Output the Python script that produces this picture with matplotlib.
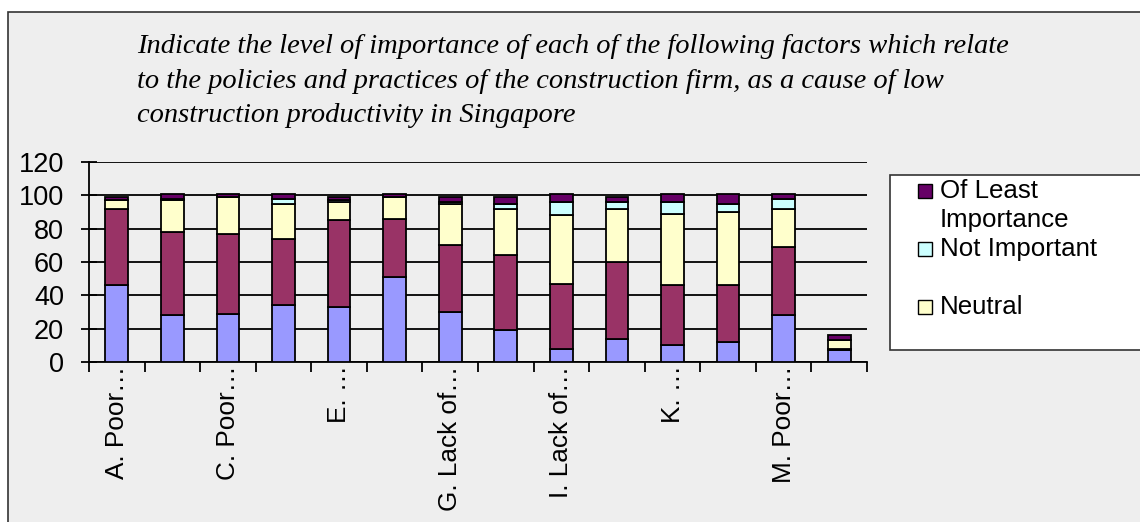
import numpy as np
import matplotlib.pyplot as plt
from matplotlib.patches import Rectangle

# Survey responses per factor (percent of respondents), stacked bottom to top
factor_labels = ["A. Poor…", "", "C. Poor…", "", "E. …", "", "G. Lack of…", "",
                 "I. Lack of…", "", "K. …", "", "M. Poor…", ""]
very_important = [46, 28, 29, 34, 33, 51, 30, 19, 8, 14, 10, 12, 28, 7]
important = [46, 50, 48, 40, 52, 35, 40, 45, 39, 46, 36, 34, 41, 1]
neutral = [5, 19, 22, 21, 11, 13, 25, 28, 41, 32, 43, 44, 23, 5]
not_important = [0, 1, 0, 3, 1, 0, 1, 3, 8, 4, 7, 5, 6, 0]
least_importance = [2, 3, 2, 3, 2, 2, 3, 4, 5, 3, 5, 6, 3, 3]

series = [very_important, important, neutral, not_important, least_importance]
colors = ["#9999FF", "#993366", "#FFFFCC", "#CCFFFF", "#660066"]
legend_names = ["Of Least\nImportance", "Not Important", "Neutral"]
y_ticks = [0, 20, 40, 60, 80, 100, 120]

title = ("Indicate the level of importance of each of the following factors which relate\n"
         "to the policies and practices of the construction firm, as a cause of low\n"
         "construction productivity in Singapore")

W, H = 1140, 522
bg = "#EEEEEE"


def fx(px):
    return px / W


def fy(py):
    return 1 - py / H


fig = plt.figure(figsize=(W / 100, H / 100), dpi=100, facecolor="white")

# chart area panel
fig.add_artist(Rectangle((fx(8), fy(530)), fx(1150), fy(12) - fy(530),
                         transform=fig.transFigure, facecolor=bg,
                         edgecolor="#333333", linewidth=1.2, zorder=0))

# multi-line text: baseline alignment refers to the last line
fig.text(fx(137), fy(122), title, fontsize=20.5, family="Liberation Serif",
         style="italic", va="baseline", ha="left", linespacing=1.5)

ax = fig.add_axes([fx(89), fy(362), fx(867 - 89), fy(162) - fy(362)])
ax.set_facecolor(bg)
ax.patch.set_alpha(0)

x = np.arange(len(factor_labels))
bottom = np.zeros(len(x))
for vals, c in zip(series, colors):
    ax.bar(x, vals, width=0.41, bottom=bottom, color=c, edgecolor="black",
           linewidth=1.3, zorder=3)
    bottom += np.array(vals)

ax.set_xlim(-0.5, len(x) - 0.5)
ax.set_ylim(0, 120)
ax.set_yticks(y_ticks)
ax.yaxis.grid(True, color="black", linewidth=1.3)
ax.set_axisbelow(True)

for s in ["top", "right"]:
    ax.spines[s].set_visible(False)
for s in ["left", "bottom"]:
    ax.spines[s].set_linewidth(1.3)

ax.set_xticks(x)
ax.set_xticklabels(factor_labels, rotation=90, va="top", ha="center",
                   fontsize=18.8, family="Liberation Sans")
ax.set_xticks(np.arange(-0.5, len(x), 1), minor=True)
ax.tick_params(axis="x", which="major", length=0, pad=2.5)
ax.tick_params(axis="x", which="minor", length=7, width=1.3, direction="out")
ax.tick_params(axis="y", direction="inout", length=12, width=1.3, pad=12,
               labelsize=19.5)
for t in ax.get_yticklabels():
    t.set_family("Liberation Sans")

# legend box with the top three response levels
fig.add_artist(Rectangle((fx(890), fy(350)), fx(1160 - 890), fy(175) - fy(350),
                         transform=fig.transFigure, facecolor="white",
                         edgecolor="#333333", linewidth=1.2, zorder=2))
entries = [(legend_names[0], colors[4], 198, 227),
           (legend_names[1], colors[3], 256, 256),
           (legend_names[2], colors[2], 314, 314)]
for name, c, box_base, text_base in entries:
    fig.add_artist(Rectangle((fx(918), fy(box_base)), fx(14),
                             fy(box_base - 14) - fy(box_base),
                             transform=fig.transFigure, facecolor=c,
                             edgecolor="black", linewidth=1.0, zorder=3))
    fig.text(fx(940), fy(text_base), name, fontsize=18.6, family="Liberation Sans",
             va="baseline", ha="left", zorder=4, linespacing=1.25)

fig.savefig("out.png", dpi=100, facecolor="white")
